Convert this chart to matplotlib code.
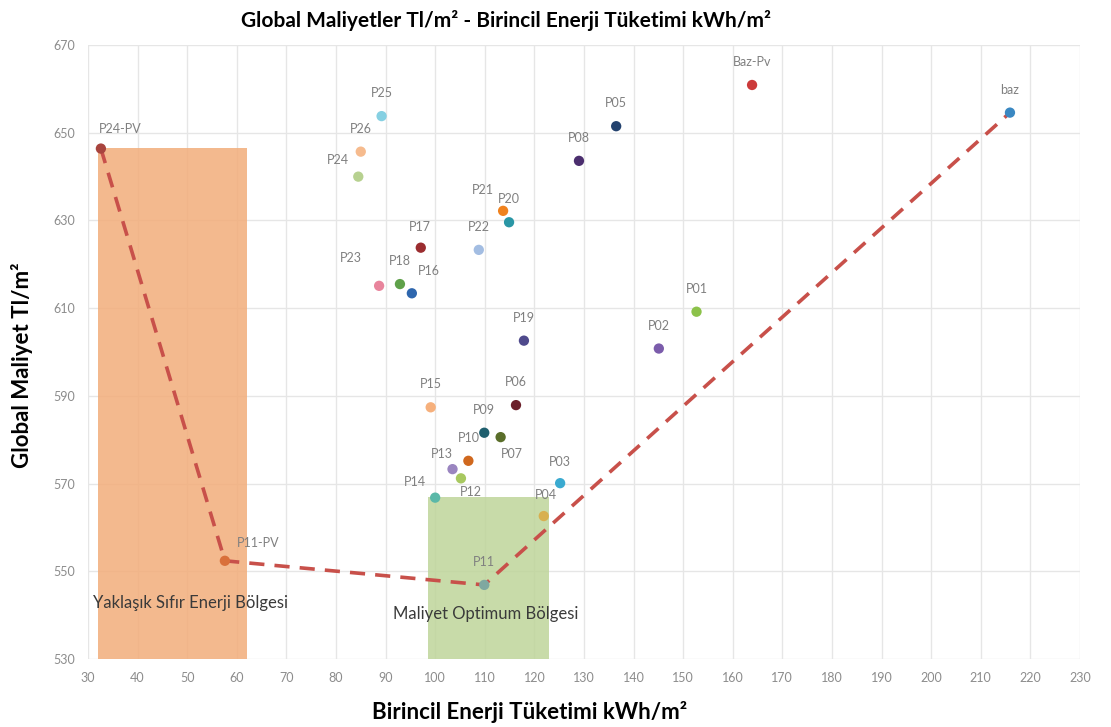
import matplotlib.pyplot as plt
from matplotlib.patches import Rectangle

plt.rcParams['font.family'] = ['Lato', 'DejaVu Sans']

# scenario points: primary energy (kWh/m2) vs global cost (Tl/m2)
names = ['P24-PV', 'P25', 'P26', 'P24', 'P23', 'P17', 'P18', 'P16', 'P22',
         'P21', 'P20', 'P08', 'P05', 'Baz-Pv', 'baz', 'P01', 'P02', 'P19',
         'P15', 'P06', 'P09', 'P07', 'P10', 'P13', 'P12', 'P14', 'P03',
         'P04', 'P11', 'P11-PV']
energy = [32.6, 89.2, 85.0, 84.5, 88.7, 97.1, 92.9, 95.3, 108.8,
          113.7, 114.9, 129.0, 136.5, 163.9, 215.9, 152.7, 145.1, 117.9,
          99.1, 116.3, 109.9, 113.2, 106.7, 103.5, 105.2, 100.0, 125.2,
          121.9, 109.9, 57.6]
cost = [646.4, 653.8, 645.7, 640.0, 615.1, 623.8, 615.5, 613.4, 623.3,
        632.2, 629.6, 643.6, 651.5, 660.9, 654.6, 609.2, 600.8, 602.6,
        587.4, 587.9, 581.6, 580.6, 575.2, 573.3, 571.2, 566.8, 570.1,
        562.6, 546.9, 552.4]
colors = ['#a8443e', '#86d0e2', '#f6bb8e', '#b7d190', '#e8849c', '#9b2d30',
          '#5fa14a', '#2e66ad', '#a3bde2', '#f0821e', '#2a96a5', '#4b2e6e',
          '#23426e', '#cc3a3a', '#3a88c2', '#8cc24a', '#7b5cab', '#4f4a8c',
          '#f6b07c', '#6b1f2a', '#1f5f6e', '#5a6e2a', '#d0681e', '#9a85c0',
          '#a8c860', '#5ab8a8', '#3aaad0', '#d8b050', '#7fa8a0', '#d9703a']

# cost-optimal frontier
frontier = ['P24-PV', 'P11-PV', 'P11', 'baz']

# zones: (x0, x1, y0, y1)
zone_nzeb = (32, 62, 530, 646.5)
zone_opt = (98.5, 123, 530, 567)

# label offsets in pixels (dx, dy)
offs = {'P24-PV': (19, 20), 'P24': (-20, 17), 'P23': (-28, 28), 'P16': (17, 22),
        'P21': (-20, 21), 'P07': (11, -17), 'P13': (-11, 15), 'P14': (-20, 16),
        'P12': (10, -14), 'P11-PV': (33, 18), 'P17': (-1, 21), 'P03': (0, 21),
        'P04': (2, 21)}

fig = plt.figure(figsize=(11.11, 7.27), dpi=100)
ax = fig.add_axes([0.0792, 0.0935, 0.8928, 0.8445])

for z, c in [(zone_nzeb, '#f2ad7a'), (zone_opt, '#bfd59a')]:
    ax.add_patch(Rectangle((z[0], z[2]), z[1] - z[0], z[3] - z[2],
                           facecolor=c, edgecolor='none', alpha=0.85, zorder=1))

fx = [energy[names.index(n)] for n in frontier]
fy = [cost[names.index(n)] for n in frontier]
ax.plot(fx, fy, color='#c8504a', lw=2.6, dashes=(4.2, 2.8), zorder=2)

ax.scatter(energy, cost, c=colors, s=55, zorder=3, edgecolors='none')

for n, x, y in zip(names, energy, cost):
    dx, dy = offs.get(n, (0, 23))
    ax.annotate(n, (x, y), xytext=(dx * 0.72, dy * 0.72), textcoords='offset points',
                ha='center', va='center', fontsize=9, color='#808080', zorder=4)

ax.text(31, 542.8, 'Yaklaşık Sıfır Enerji Bölgesi', fontsize=12, color='#3a3a3a',
        ha='left', va='center', zorder=4)
ax.text(91.5, 540.3, 'Maliyet Optimum Bölgesi', fontsize=12, color='#3a3a3a',
        ha='left', va='center', zorder=4)

ax.set_xlim(30, 230)
ax.set_ylim(530, 670)
ax.set_xticks(range(30, 231, 10))
ax.set_yticks(range(530, 671, 20))
ax.grid(True, color='#e6e6e6', lw=1)
ax.set_axisbelow(True)
for s in ax.spines.values():
    s.set_visible(False)
ax.tick_params(length=0, labelsize=9, labelcolor='#8c8c8c', pad=9)

ax.set_xlabel('Birincil Enerji Tüketimi kWh/m²', fontsize=16, fontweight='bold')
ax.xaxis.set_label_coords(0.4456, -0.068)
ax.set_ylabel('Global Maliyet Tl/m²', fontsize=16, fontweight='bold')
ax.yaxis.set_label_coords(-0.055, 0.479)
fig.text(0.455, 0.972, 'Global Maliyetler Tl/m² - Birincil Enerji Tüketimi kWh/m²',
         ha='center', va='center', fontsize=15, fontweight='bold')

fig.savefig('out.png', dpi=100)
